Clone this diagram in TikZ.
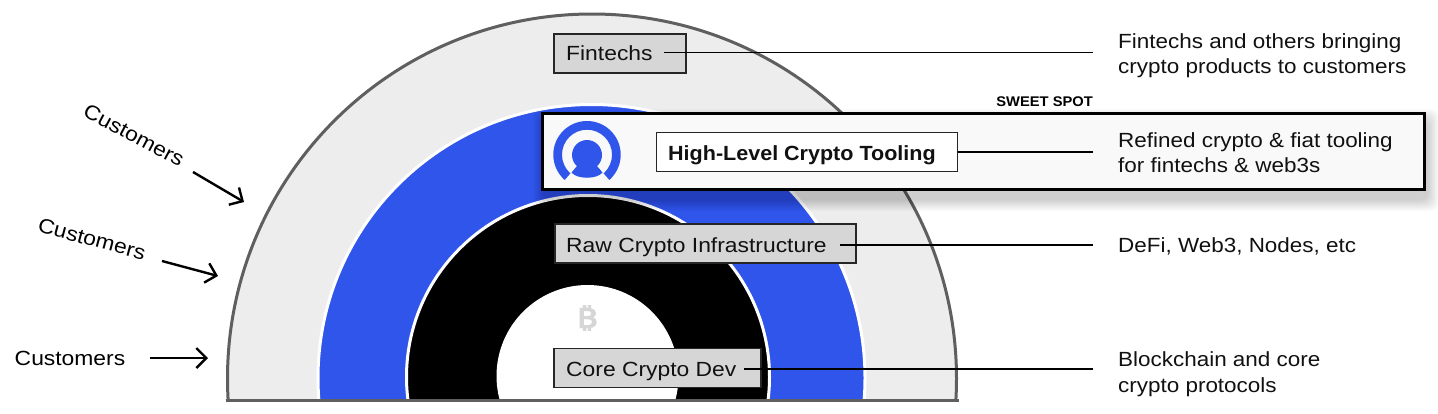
\documentclass[tikz,border=0pt]{standalone}
\usepackage{fontspec}
\setmainfont{Liberation Sans}[FakeStretch=1.115,BoldFeatures={FakeStretch=1.05}]
\newfontfamily\sidefont{Liberation Sans}[FakeStretch=1.095]
\newfontfamily\btcfont{Noto Sans}[FakeStretch=1.35,AutoFakeBold=4]
\usetikzlibrary{arrows.meta}
\definecolor{ringgray}{HTML}{EDEDED}
\definecolor{ringedge}{HTML}{5F5F5F}
\definecolor{brandblue}{HTML}{2F55EB}
\definecolor{boxgray}{HTML}{D6D6D6}
\definecolor{panelfill}{HTML}{F9F9F9}
\definecolor{inkblack}{HTML}{111111}
\tikzset{
  x=1pt,y=-1pt,
  labelbox/.style={draw=black!85,line width=1.1pt,fill=boxgray,inner sep=0pt,outer sep=0pt,anchor=north west},
  lead/.style={draw=black,line width=1.4pt},
  bodytext/.style={anchor=base west,inner sep=0pt,text=inkblack,font=\fontsize{20.5}{25}\selectfont},
  sidetext/.style={anchor=base west,inner sep=0pt,text=inkblack,font=\sidefont\fontsize{20.5}{25}\selectfont},
  customer/.style={inner sep=0pt,text=black,font=\fontsize{20.5}{25}\selectfont},
  custarrow/.style={draw=black,line width=2.4pt,-{Straight Barb[length=10pt,width=20pt,line width=2.4pt]}},
}
\begin{document}
\begin{tikzpicture}
\useasboundingbox (0,0) rectangle (1438,413);
\fill[white] (0,0) rectangle (1438,413);
% rings
\begin{scope}
\clip (0,0) rectangle (1438,400);
\draw[draw=ringedge,fill=ringgray,line width=3pt] (592,378.5) circle[radius=364.5pt];
\draw[draw=white,fill=brandblue,line width=3pt] (591.5,378) circle[radius=273.5pt];
\draw[draw=white,fill=black,line width=3pt] (588,377) circle[radius=181.5pt];
\fill[white] (587.5,376) circle[radius=91pt];
\end{scope}
\draw[draw=ringedge,line width=3pt] (225.5,400.5) -- (958.5,400.5);
% bitcoin glyph
\node[inner sep=0pt,text=boxgray,font=\btcfont\bfseries\fontsize{27}{27}\selectfont] (btc) at (587,318) {₿};
% shadow of panel
\foreach \s in {1,2,...,12}{
  \fill[black,opacity=0.016,rounded corners=8pt] (541-\s+4,112-\s+9) rectangle (1426+\s+1,191+\s+8);
}
% panel
\node[draw=black,line width=3pt,fill=panelfill,inner sep=0pt,outer sep=0pt,minimum width=882pt,minimum height=76pt,anchor=north west] (panel) at (542.5,113.5) {};
% logo
\begin{scope}
\clip (550,118) rectangle (625,187);
\fill[brandblue,even odd rule] (587,154.7) circle[radius=33.7pt] (587,154.7) circle[radius=25pt];
\fill[panelfill] (587,154.7) -- (557.3,188.6) -- (616.7,188.6) -- cycle;
\end{scope}
\fill[brandblue] (587,155) circle[radius=15pt];
\fill[brandblue] (577,166) -- (571.5,172.5) .. controls (577,179.5) and (597,179.5) .. (602.5,172.5) -- (597,166) -- cycle;
% boxes
\node[labelbox,minimum width=132pt,minimum height=39pt] (fin) at (554,34) {};
\node[labelbox,minimum width=301pt,minimum height=39pt,fill=white] (high) at (656.5,132.5) {};
\node[labelbox,minimum width=301pt,minimum height=39pt] (raw) at (555,224) {};
\node[labelbox,minimum width=207pt,minimum height=39pt] (core) at (554,348.5) {};
\node[bodytext] (fintxt) at (566,60.5) {Fintechs};
\node[bodytext,font=\fontsize{20.5}{25}\selectfont\bfseries] (hightxt) at (668,160.5) {High-Level Crypto Tooling};
\node[bodytext] (rawtxt) at (566,252) {Raw Crypto Infrastructure};
\node[bodytext] (coretxt) at (566,376) {Core Crypto Dev};
% connector ends
\coordinate (finA) at (664,52.7);
\coordinate (finB) at (1093,52.7);
\coordinate (highA) at (high.east);
\coordinate (highB) at (1093,152);
\coordinate (rawA) at (840,245);
\coordinate (rawB) at (1093,245);
\coordinate (coreA) at (744,369);
\coordinate (coreB) at (1093,369);
\draw[lead] (finA) -- (finB);
\draw[lead] (highA) -- (highB);
\draw[lead] (rawA) -- (rawB);
\draw[lead] (coreA) -- (coreB);
% right text
\node[sidetext] (r1) at (1118,48) {Fintechs and others bringing};
\node[sidetext] (r2) at (1118,73) {crypto products to customers};
\node[sidetext] (r3) at (1118,147) {Refined crypto \& fiat tooling};
\node[sidetext] (r4) at (1118,172) {for fintechs \& web3s};
\node[sidetext] (r5) at (1118,252) {DeFi, Web3, Nodes, etc};
\node[sidetext] (r6) at (1118,366) {Blockchain and core};
\node[sidetext] (r7) at (1118,392) {crypto protocols};
\node[inner sep=0pt,anchor=base east,text=black,font=\fontsize{14}{14}\selectfont\bfseries] (sweet) at (1093,106.5) {SWEET SPOT};
% customers
\node[customer,rotate=-28] (c1) at (134,135) {Customers};
\node[customer,rotate=-15] (c2) at (92,239) {Customers};
\node[customer] (c3) at (70,358) {Customers};
\coordinate (a1s) at (193,172);
\coordinate (a1e) at (244,202);
\coordinate (a2s) at (162,261);
\coordinate (a2e) at (218,276);
\coordinate (a3s) at (150,358);
\coordinate (a3e) at (208,358);
\draw[custarrow] (a1s) -- (a1e);
\draw[custarrow] (a2s) -- (a2e);
\draw[custarrow] (a3s) -- (a3e);
\end{tikzpicture}
\end{document}
